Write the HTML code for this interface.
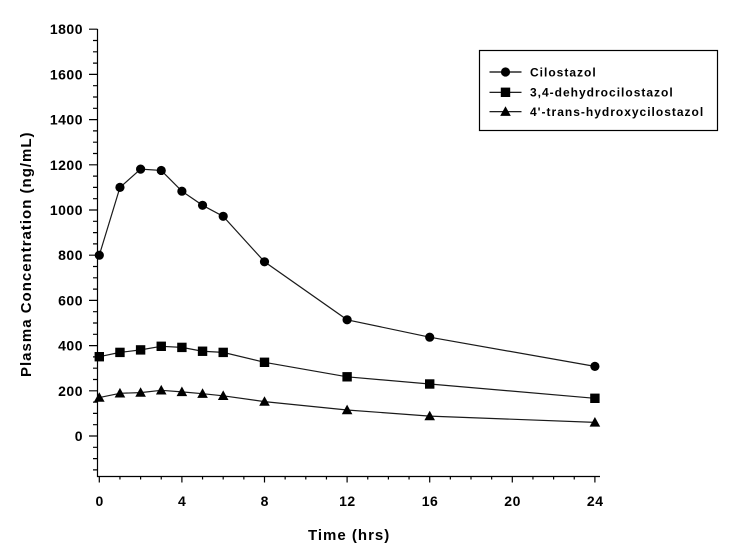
<!DOCTYPE html>
<html><head><meta charset="utf-8"><style>
html,body{margin:0;padding:0;background:#fff;}
svg{display:block;}
text{font-family:"Liberation Sans",Arial,sans-serif;font-weight:bold;fill:#000;}
</style></head><body>
<svg width="734" height="555" viewBox="0 0 734 555" xmlns="http://www.w3.org/2000/svg">
<rect width="734" height="555" fill="#fff"/>
<!-- axes -->
<g stroke="#000" stroke-width="1.2" fill="none">
<path d="M97.5 29 V476.5 H600"/>
<!-- y major ticks -->
<path d="M89 436h8.5M89 390.8h8.5M89 345.6h8.5M89 300.4h8.5M89 255.2h8.5M89 210h8.5M89 164.8h8.5M89 119.6h8.5M89 74.4h8.5M89 29.2h8.5"/>
<!-- y minor ticks -->
<path d="M93 469.9h4.5M93 458.6h4.5M93 447.3h4.5M93 424.7h4.5M93 413.4h4.5M93 402.1h4.5M93 379.5h4.5M93 368.2h4.5M93 356.9h4.5M93 334.3h4.5M93 323h4.5M93 311.7h4.5M93 289.1h4.5M93 277.8h4.5M93 266.5h4.5M93 243.9h4.5M93 232.6h4.5M93 221.3h4.5M93 198.7h4.5M93 187.4h4.5M93 176.1h4.5M93 153.5h4.5M93 142.2h4.5M93 130.9h4.5M93 108.3h4.5M93 97h4.5M93 85.7h4.5M93 63.1h4.5M93 51.8h4.5M93 40.5h4.5"/>
<!-- x major ticks -->
<path d="M99.3 476.5v6M181.9 476.5v6M264.5 476.5v6M347.1 476.5v6M429.7 476.5v6M512.3 476.5v6M594.9 476.5v6"/>
<!-- x minor ticks -->
<path d="M119.95 476.5v3M140.6 476.5v3M161.25 476.5v3M202.55 476.5v3M223.2 476.5v3M243.85 476.5v3M285.15 476.5v3M305.8 476.5v3M326.45 476.5v3M367.75 476.5v3M388.4 476.5v3M409.05 476.5v3M450.35 476.5v3M471 476.5v3M491.65 476.5v3M532.95 476.5v3M553.6 476.5v3M574.25 476.5v3"/>
</g>
<!-- y tick labels -->
<g font-size="14" letter-spacing="0.5" text-anchor="end">
<text x="83" y="441">0</text>
<text x="83" y="395.8">200</text>
<text x="83" y="350.6">400</text>
<text x="83" y="305.4">600</text>
<text x="83" y="260.2">800</text>
<text x="83" y="215">1000</text>
<text x="83" y="169.8">1200</text>
<text x="83" y="124.6">1400</text>
<text x="83" y="79.4">1600</text>
<text x="83" y="34.2">1800</text>
</g>
<!-- x tick labels -->
<g font-size="14" letter-spacing="0.5" text-anchor="middle">
<text x="99.6" y="506">0</text>
<text x="182.2" y="506">4</text>
<text x="264.8" y="506">8</text>
<text x="347.4" y="506">12</text>
<text x="430" y="506">16</text>
<text x="512.6" y="506">20</text>
<text x="595.2" y="506">24</text>
</g>
<!-- axis titles -->
<text x="308" y="540" font-size="15" letter-spacing="1">Time (hrs)</text>
<text transform="translate(31,377) rotate(-90)" font-size="15" letter-spacing="1">Plasma Concentration (ng/mL)</text>
<!-- series lines -->
<g fill="none" stroke="#1a1a1a" stroke-width="1.2">
<polyline points="99.3,255.2 119.95,187.4 140.6,169.1 161.25,170.45 181.9,191.2 202.55,205.3 223.2,216.3 264.5,261.8 347.1,319.8 429.7,337.2 594.9,366.4"/>
<polyline points="99.3,356.7 119.95,352.4 140.6,349.9 161.25,346.3 181.9,347.4 202.55,351.25 223.2,352.4 264.5,362.3 347.1,376.8 429.7,384 594.9,398.3"/>
<polyline points="99.3,397.6 119.95,393.3 140.6,392.6 161.25,390.3 181.9,391.9 202.55,393.7 223.2,395.8 264.5,401.6 347.1,410 429.7,416.1 594.9,422.4"/>
</g>
<!-- circles -->
<g fill="#000">
<circle cx="99.3" cy="255.2" r="4.6"/>
<circle cx="119.95" cy="187.4" r="4.6"/>
<circle cx="140.6" cy="169.1" r="4.6"/>
<circle cx="161.25" cy="170.45" r="4.6"/>
<circle cx="181.9" cy="191.2" r="4.6"/>
<circle cx="202.55" cy="205.3" r="4.6"/>
<circle cx="223.2" cy="216.3" r="4.6"/>
<circle cx="264.5" cy="261.8" r="4.6"/>
<circle cx="347.1" cy="319.8" r="4.6"/>
<circle cx="429.7" cy="337.2" r="4.6"/>
<circle cx="594.9" cy="366.4" r="4.6"/>
</g>
<!-- squares -->
<g fill="#000">
<rect x="94.6" y="352" width="9.4" height="9.4"/>
<rect x="115.25" y="347.7" width="9.4" height="9.4"/>
<rect x="135.9" y="345.2" width="9.4" height="9.4"/>
<rect x="156.55" y="341.6" width="9.4" height="9.4"/>
<rect x="177.2" y="342.7" width="9.4" height="9.4"/>
<rect x="197.85" y="346.55" width="9.4" height="9.4"/>
<rect x="218.5" y="347.7" width="9.4" height="9.4"/>
<rect x="259.8" y="357.6" width="9.4" height="9.4"/>
<rect x="342.4" y="372.1" width="9.4" height="9.4"/>
<rect x="425" y="379.3" width="9.4" height="9.4"/>
<rect x="590.2" y="393.6" width="9.4" height="9.4"/>
</g>
<!-- triangles -->
<g fill="#000">
<polygon points="94,401.8 104.6,401.8 99.3,392.2"/>
<polygon points="114.65,397.5 125.25,397.5 119.95,387.9"/>
<polygon points="135.3,396.8 145.9,396.8 140.6,387.2"/>
<polygon points="155.95,394.5 166.55,394.5 161.25,384.9"/>
<polygon points="176.6,396.1 187.2,396.1 181.9,386.5"/>
<polygon points="197.25,397.9 207.85,397.9 202.55,388.3"/>
<polygon points="217.9,400 228.5,400 223.2,390.4"/>
<polygon points="259.2,405.8 269.8,405.8 264.5,396.2"/>
<polygon points="341.8,414.2 352.4,414.2 347.1,404.6"/>
<polygon points="424.4,420.3 435,420.3 429.7,410.7"/>
<polygon points="589.6,426.6 600.2,426.6 594.9,417"/>
</g>
<!-- legend -->
<rect x="479.5" y="50.5" width="238" height="80" fill="none" stroke="#000" stroke-width="1.2"/>
<g stroke="#000" stroke-width="1.2">
<path d="M489.5 72h32M489.5 92.3h32M489.5 111.7h32"/>
</g>
<circle cx="505.5" cy="72" r="4.6" fill="#000"/>
<rect x="500.8" y="87.6" width="9.4" height="9.4" fill="#000"/>
<polygon points="500.2,115.9 510.8,115.9 505.5,106.3" fill="#000"/>
<g font-size="12" letter-spacing="1">
<text x="530" y="76.3">Cilostazol</text>
<text x="530" y="96.5">3,4-dehydrocilostazol</text>
<text x="530" y="115.9">4'-trans-hydroxycilostazol</text>
</g>
</svg>
</body></html>
